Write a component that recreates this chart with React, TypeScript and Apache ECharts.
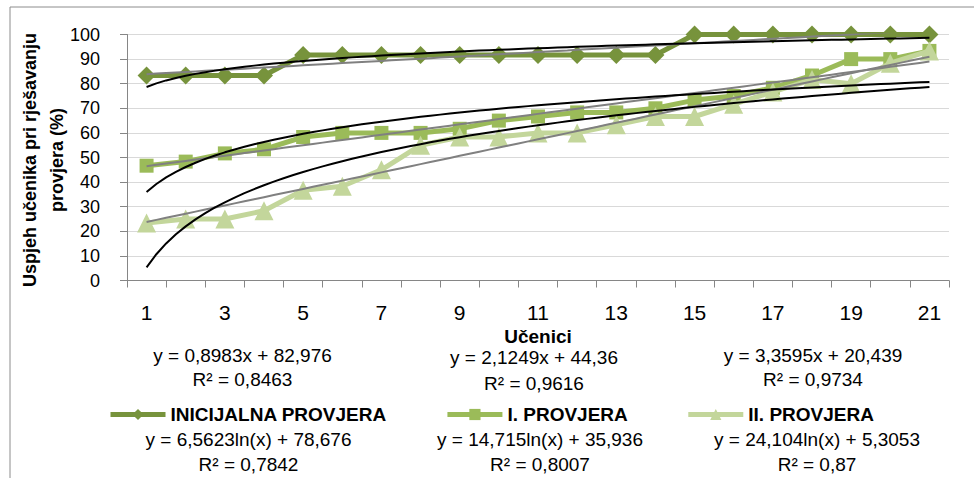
import React, { useEffect, useRef } from "react";
import * as echarts from "echarts";

const categories = ["1","2","3","4","5","6","7","8","9","10","11","12","13","14","15","16","17","18","19","20","21"];
const seriesNames = ["INICIJALNA PROVJERA", "I. PROVJERA", "II. PROVJERA"];
const inicijalna = [83.33, 83.33, 83.33, 83.33, 91.67, 91.67, 91.67, 91.67, 91.67, 91.67, 91.67, 91.67, 91.67, 91.67, 100, 100, 100, 100, 100, 100, 100];
const provjera1 = [46.67, 48.33, 51.67, 53.33, 58.33, 60, 60, 60, 61.67, 65, 66.67, 68.33, 68.33, 70, 73.33, 75, 78.33, 83.33, 90, 90, 93.33];
const provjera2 = [23.33, 25, 25, 28.33, 36.67, 38.33, 45, 55, 58.33, 58.33, 60, 60, 63.33, 66.67, 66.67, 71.67, 76.67, 81.67, 80, 88.33, 93.33];

// Trendline equations shown on the chart
const linSlope = [0.8983, 2.1249, 3.3595];
const linIntercept = [82.976, 44.36, 20.439];
const linR2 = ["0,8463", "0,9616", "0,9734"];
const logCoef = [6.5623, 14.715, 24.104];
const logIntercept = [78.676, 35.936, 5.3053];
const logR2 = ["0,7842", "0,8007", "0,87"];

const yTicks = [0, 100, 10];

const colors = ["#77933C", "#9BBB59", "#C3D69B"];
const symbols = ["diamond", "rect", "triangle"];
const symbolSizes = [18, 14, 19];

const fmt = (n: number) => String(n).replace(".", ",");

export default function App() {
  const ref = useRef<HTMLDivElement>(null);
  useEffect(() => {
    if (!ref.current) return;
    const chart = echarts.init(ref.current, null, { renderer: "svg" });
    const dataSets = [inicijalna, provjera1, provjera2];
    const n = categories.length;

    const dataSeries: any[] = dataSets.map((d, i) => ({
      name: seriesNames[i],
      type: "line",
      xAxisIndex: 0,
      yAxisIndex: 0,
      data: d,
      symbol: symbols[i],
      symbolSize: symbolSizes[i],
      itemStyle: { color: colors[i] },
      lineStyle: { color: colors[i], width: 5 },
      z: 2 + i,
    }));

    const trendSeries: any[] = [];
    for (let i = 0; i < 3; i++) {
      const lin: number[][] = [];
      const lg: number[][] = [];
      for (let k = 0; k <= (n - 1) * 4; k++) {
        const x = 1 + k / 4;
        lin.push([x, linSlope[i] * x + linIntercept[i]]);
        lg.push([x, logCoef[i] * Math.log(x) + logIntercept[i]]);
      }
      trendSeries.push({
        type: "line", xAxisIndex: 1, yAxisIndex: 0, data: lin, showSymbol: false, symbol: "none",
        lineStyle: { color: "#808080", width: 2 }, z: 10, silent: true,
      });
      trendSeries.push({
        type: "line", xAxisIndex: 1, yAxisIndex: 0, data: lg, showSymbol: false, symbol: "none", smooth: false,
        lineStyle: { color: "#000000", width: 2 }, z: 11, silent: true,
      });
    }

    const eqFont = "19px 'Liberation Sans'";
    const centers = [[242.5, 248.5], [534, 540], [813, 817]];
    const graphics: any[] = [
      { type: "rect", shape: { x: 10, y: 7, width: 1200, height: 600 }, style: { fill: "none", stroke: "#8c8c8c", lineWidth: 1 }, silent: true },
      {
        type: "text", x: 43, y: 160, rotation: Math.PI / 2,
        style: { text: "Uspjeh učenika pri rješavanju\nprovjera (%)", font: "bold 18px 'Liberation Sans'", fill: "#000", align: "center", verticalAlign: "middle", lineHeight: 27 },
      },
    ];
    for (let i = 0; i < 3; i++) {
      graphics.push({ type: "text", x: centers[i][0], y: i === 1 ? 357 : 355, style: { text: `y = ${fmt(linSlope[i])}x + ${fmt(linIntercept[i])}`, font: eqFont, lineHeight: 19, fill: "#000", align: "center", verticalAlign: "middle" } });
      graphics.push({ type: "text", x: centers[i][0], y: i === 1 ? 383 : 379, style: { text: `R² = ${linR2[i]}`, font: eqFont, lineHeight: 19, fill: "#000", align: "center", verticalAlign: "middle" } });
      graphics.push({ type: "text", x: centers[i][1], y: 439, style: { text: `y = ${fmt(logCoef[i])}ln(x) + ${fmt(logIntercept[i])}`, font: eqFont, lineHeight: 19, fill: "#000", align: "center", verticalAlign: "middle" } });
      graphics.push({ type: "text", x: centers[i][1], y: 464, style: { text: `R² = ${logR2[i]}`, font: eqFont, lineHeight: 19, fill: "#000", align: "center", verticalAlign: "middle" } });
    }

    chart.setOption({
      animation: false,
      backgroundColor: "#ffffff",
      grid: { left: 127, right: 25, top: 34.5, height: 246, containLabel: false },
      legend: {
        data: seriesNames,
        left: 103, top: 400,
        itemWidth: 55, itemHeight: 14, itemGap: 58,
        lineStyle: { width: 5 },
        textStyle: { fontFamily: "Liberation Sans", fontWeight: "bold", fontSize: 19, color: "#000" },
      },
      xAxis: [
        {
          type: "category", data: categories, boundaryGap: true, position: "bottom",
          axisLine: { lineStyle: { color: "#868686", width: 1 } },
          axisTick: { show: true, interval: 0, length: 7, lineStyle: { color: "#868686" } },
          axisLabel: { interval: 1, margin: 21, fontFamily: "Liberation Sans", fontSize: 21, color: "#000" },
          name: "Učenici", nameLocation: "middle", nameGap: 45,
          nameTextStyle: { fontFamily: "Liberation Sans", fontWeight: "bold", fontSize: 19, lineHeight: 19, color: "#000" },
        },
        { type: "value", min: 0.5, max: 21.5, show: false },
      ],
      yAxis: {
        type: "value", min: yTicks[0], max: yTicks[1], interval: yTicks[2],
        axisLine: { show: true, lineStyle: { color: "#868686" } },
        axisTick: { show: true, length: 7, lineStyle: { color: "#868686" } },
        axisLabel: { margin: 27, fontFamily: "Liberation Sans", fontSize: 18, color: "#000" },
        splitLine: { lineStyle: { color: "#d9d9d9", width: 1 } },
      },
      graphic: graphics,
      series: [...dataSeries, ...trendSeries],
    });
    return () => chart.dispose();
  }, []);
  return <div ref={ref} style={{ position: "fixed", left: 0, top: 0, width: 974, height: 478, background: "#fff" }} />;
}
